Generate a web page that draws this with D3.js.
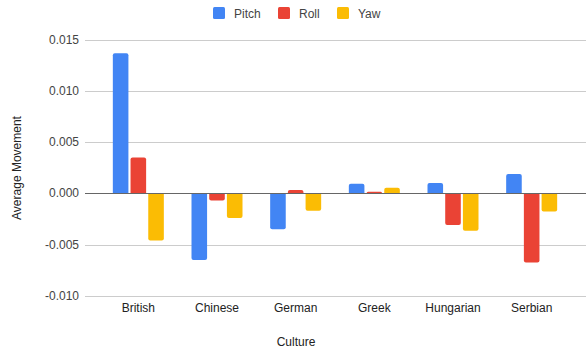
<!DOCTYPE html>
<html lang="en">
<head>
    <script src="https://d3js.org/d3.v7.min.js"></script>
    <title>Average Movement by Culture</title>
    <style>
        body { margin: 0; background: #fff; }
        text { font-family: Arial, "Liberation Sans", sans-serif; }
    </style>
</head>
<body>
    <svg width="586" height="353"></svg>
    <script>

        var cultures = ["British", "Chinese", "German", "Greek", "Hungarian", "Serbian"];
        var seriesNames = ["Pitch", "Roll", "Yaw"];
        var pitch = [0.01365, -0.0065, -0.0035, 0.00093, 0.00102, 0.0019];
        var roll  = [0.0035, -0.0007, 0.00034, 0.00015, -0.00307, -0.00674];
        var yaw   = [-0.0046, -0.0024, -0.0017, 0.00054, -0.00365, -0.00177];
        var yTicks = [-0.010, -0.005, 0.000, 0.005, 0.010, 0.015];
        var colors = ["#4285F4", "#EA4335", "#FBBC04"];

        var values = [pitch, roll, yaw];

        var svg = d3.select("svg");

        var xScale = d3.scaleBand().domain(cultures).range([99, 571]);
        var xSeries = d3.scaleBand().domain(seriesNames)
                        .range([0, 51]).paddingInner(0.12);
        var yScale = d3.scaleLinear().domain([-0.010, 0.015]).range([296, 39.5]);

        // gridlines
        svg.append("g")
            .selectAll("line")
            .data(yTicks)
            .enter()
            .append("line")
            .attr("x1", 85)
            .attr("x2", 586)
            .attr("y1", function (d) { return Math.round(yScale(d)) + 0.5; })
            .attr("y2", function (d) { return Math.round(yScale(d)) + 0.5; })
            .style("stroke", "#cccccc")
            .style("stroke-width", 1);

        // y tick labels
        svg.append("g")
            .selectAll("text")
            .data(yTicks)
            .enter()
            .append("text")
            .attr("x", 79)
            .attr("y", function (d) { return yScale(d) + 4; })
            .attr("text-anchor", "end")
            .style("font-size", "12px")
            .style("fill", "#444")
            .text(function (d) { return d3.format(".3f")(d).replace("−", "-"); });

        // bars
        var groups = svg.append("g")
            .selectAll("g")
            .data(cultures)
            .enter()
            .append("g")
            .attr("transform", function (d) {
                return "translate(" + (xScale(d) + xScale.bandwidth() / 2 - 25.5) + ",0)";
            });

        groups.selectAll("path")
            .data(function (d, i) {
                return seriesNames.map(function (s, j) {
                    return { series: s, value: values[j][i], color: colors[j] };
                });
            })
            .enter()
            .append("path")
            .attr("d", function (d) {
                var x = xSeries(d.series), w = xSeries.bandwidth();
                var y0 = yScale(0), y1 = yScale(d.value);
                var r = Math.min(2, Math.abs(y1 - y0));
                if (d.value >= 0) {
                    return "M" + x + "," + y0 + "V" + (y1 + r) +
                        "Q" + x + "," + y1 + " " + (x + r) + "," + y1 +
                        "H" + (x + w - r) +
                        "Q" + (x + w) + "," + y1 + " " + (x + w) + "," + (y1 + r) +
                        "V" + y0 + "Z";
                }
                return "M" + x + "," + y0 + "V" + (y1 - r) +
                    "Q" + x + "," + y1 + " " + (x + r) + "," + y1 +
                    "H" + (x + w - r) +
                    "Q" + (x + w) + "," + y1 + " " + (x + w) + "," + (y1 - r) +
                    "V" + y0 + "Z";
            })
            .style("fill", function (d) { return d.color; });

        // zero line
        svg.append("line")
            .attr("x1", 85)
            .attr("x2", 586)
            .attr("y1", Math.round(yScale(0)) + 0.5)
            .attr("y2", Math.round(yScale(0)) + 0.5)
            .style("stroke", "#666")
            .style("stroke-width", 1);

        // category labels
        svg.append("g")
            .selectAll("text")
            .data(cultures)
            .enter()
            .append("text")
            .attr("x", function (d) { return xScale(d) + xScale.bandwidth() / 2; })
            .attr("y", 312)
            .attr("text-anchor", "middle")
            .style("font-size", "12px")
            .style("fill", "#222")
            .text(function (d) { return d; });

        // axis titles
        svg.append("text")
            .attr("x", 296)
            .attr("y", 346)
            .attr("text-anchor", "middle")
            .style("font-size", "12px")
            .style("fill", "#222")
            .text("Culture");

        svg.append("text")
            .attr("text-anchor", "middle")
            .attr("transform", "translate(21,168)rotate(-90)")
            .style("font-size", "12px")
            .style("fill", "#222")
            .text("Average Movement");

        // legend
        var legendX = [213, 278, 337];
        var legend = svg.append("g")
            .selectAll("g")
            .data(seriesNames)
            .enter()
            .append("g")
            .attr("transform", function (d, i) { return "translate(" + legendX[i] + ",7)"; });

        legend.append("rect")
            .attr("width", 12)
            .attr("height", 12)
            .attr("rx", 1.5)
            .style("fill", function (d, i) { return colors[i]; });

        legend.append("text")
            .attr("x", 21)
            .attr("y", 10.5)
            .style("font-size", "12px")
            .style("fill", "#444")
            .text(function (d) { return d; });

    </script>
</body>
</html>
